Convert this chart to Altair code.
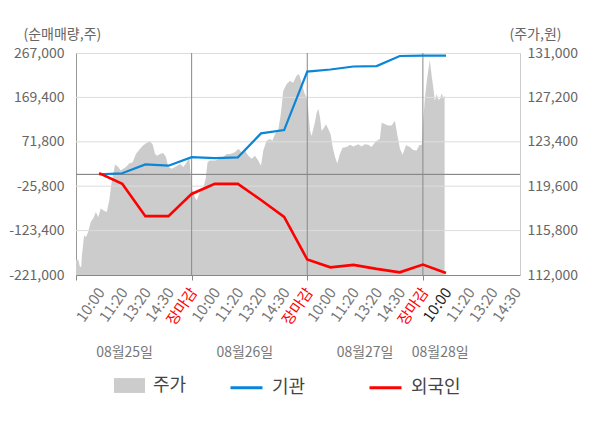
import altair as alt
import pandas as pd

FONT = "Noto Sans CJK KR"

# ---- price (주가), x in label-slot units (5 slots per trading day) ----
price_x = [0, 0.10, 0.17, 0.23, 0.25, 0.35, 0.43, 0.53, 0.64, 0.75, 0.86, 0.96, 1.07, 1.18, 1.33, 1.44,
           1.54, 1.69, 1.83, 1.93, 2.04, 2.16, 2.30, 2.45, 2.59, 2.77, 2.91, 3.08, 3.20, 3.32, 3.42, 3.51,
           3.63, 3.77, 3.89, 3.99, 4.14, 4.28, 4.50, 4.64, 4.79, 4.90,
           5.00, 5.07, 5.14, 5.22, 5.36, 5.50, 5.61, 5.69, 5.79, 6.01, 6.23, 6.37, 6.52, 6.66, 6.87, 7.02,
           7.16, 7.31, 7.45, 7.60, 7.74, 7.88, 8.00, 8.10, 8.24, 8.39, 8.49, 8.60, 8.75, 8.86, 8.96, 9.11,
           9.25, 9.39, 9.54, 9.64, 9.76, 9.87,
           9.97, 10.04, 10.12, 10.19, 10.26, 10.33, 10.41, 10.48, 10.55, 10.62, 10.69, 10.81, 10.91, 11.01,
           11.10, 11.20, 11.30, 11.41, 11.53, 11.70, 11.85, 11.99, 12.21, 12.35, 12.49, 12.64, 12.78, 12.97,
           13.14, 13.22, 13.36, 13.50, 13.65, 13.79, 13.89, 14.01, 14.12, 14.27, 14.44, 14.58, 14.73, 14.84,
           14.95,
           15.02, 15.09, 15.16, 15.23, 15.30, 15.38, 15.45, 15.52, 15.59, 15.66, 15.74, 15.81, 15.88, 15.94]
price_v = [113300, 113300, 112700, 112700, 113550, 115400, 115250, 115700, 116550, 116850, 117400, 116950,
           117700, 117550, 117400, 118400, 119950, 121450, 121250, 120950, 121100, 121250, 121550, 121650,
           122350, 122800, 123100, 123350, 123450, 123150, 122350, 122200, 122350, 122450, 122100, 121250,
           121100, 121250, 121500, 121250, 121650, 122100,
           119500, 119050, 118650, 118400, 119100, 119400, 120250, 121650, 121800, 121800, 121950, 122100,
           122350, 122350, 122500, 122800, 122500, 122650, 122200, 121950, 122200, 121800, 121350, 122650,
           123500, 123650, 123500, 124050, 124500, 125800, 127750, 128350, 128600, 128450, 129050, 129200,
           128450, 127600,
           127200, 126200, 124350, 123900, 124500, 125050, 125900, 126200, 125500, 124350, 124500, 124900,
           124500, 124050, 122950, 122100, 121550, 122350, 122900, 122950, 123150, 123000, 123200, 123000,
           123200, 123150, 122950, 123450, 123650, 125050, 124900, 124800, 124800, 125200, 124050, 122800,
           122300, 123100, 122950, 122700, 122650, 123100, 123150,
           125350, 127200, 128450, 129450, 130400, 129050, 128050, 126900, 127500, 127050, 127050, 127550,
           127200, 127350]

# ---- net buying (순매매량) at each label slot ----
slots = list(range(1, 17))
inst = [0, 2700, 22200, 19300, 38100, 35900, 37700, 90300, 97600, 226200, 230700, 237300, 238200,
        260400, 261100, 261100]
foreign = [3000, -20600, -91600, -91600, -42800, -20600, -20600, -56100, -93200, -187000, -204100,
           -198700, -207600, -215100, -198100, -216500]

# ---- axes / labels ----
time_labels = ["장마감", "10:00", "11:20", "13:20", "14:30"]  # index = slot % 5
x_ticks = list(range(0, 20))
day_bounds = [5, 10, 15]
current_slot = 16
dates = ["08월25일", "08월26일", "08월27일", "08월28일"]
date_pos = [2.1, 7.3, 12.5, 15.75]
left_ticks = [267000, 169400, 71800, -25800, -123400, -221000]
right_ticks = [112000, 115800, 119600, 123400, 127200, 131000]
names_price = ["주가"]
names_flow = ["기관", "외국인"]
colors_flow = ["#0a86d8", "#ff0000"]

W, H = 444, 222

price_df = pd.DataFrame({"x": price_x, "v": price_v, "name": "주가"})
flow_df = pd.concat([
    pd.DataFrame({"x": slots, "v": inst, "name": "기관"}),
    pd.DataFrame({"x": slots, "v": foreign, "name": "외국인"}),
])
grid_df = pd.DataFrame({"v": left_ticks[1:-1]})
day_df = pd.DataFrame({"x": day_bounds})
date_df = pd.DataFrame({"x": date_pos, "t": dates})

lab_arr = "[" + ",".join("'" + s + "'" for s in time_labels) + "]"
x_axis = alt.Axis(
    values=x_ticks, title=None, grid=False,
    labelExpr=f"datum.value == 0 ? '' : {lab_arr}[datum.value % 5]",
    labelAngle=-55, labelAlign="right", labelBaseline="top",
    labelFontSize=15, labelFont=FONT, labelPadding=5, labelOffset=-4,
    labelOverlap=False, labelFlush=False,
    labelColor={"condition": [{"test": "datum.value % 5 == 0", "value": "#ff0000"},
                              {"test": f"datum.value == {current_slot}", "value": "#222222"}],
                "value": "#777777"},
    tickOpacity={"condition": {"test": "datum.value % 5 == 0", "value": 1}, "value": 0},
    tickColor="#888888", tickSize=5, domainColor="#888888",
)
x_scale = alt.Scale(domain=[0, 19.2], nice=False, zero=False)


def X(field):
    return alt.X(field, type="quantitative", scale=x_scale, axis=x_axis)


MINUS_FIX = "replace(datum.label, '\u2212', '-')"

left_scale = alt.Scale(domain=[-221000, 267000], nice=False, zero=False)
left_axis = alt.Axis(
    orient="left", values=left_ticks, format=",d", labelExpr=MINUS_FIX, grid=False, ticks=False,
    labelPadding=12, labelFontSize=14, labelColor="#666666", labelFont=FONT, labelOverlap=False,
    domainColor="#999999",
    title="(순매매량,주)", titleAngle=0, titleX=-53, titleY=-19, titleAlign="left",
    titleBaseline="middle", titleFontSize=14, titleFontWeight="normal", titleColor="#666666",
    titleFont=FONT,
)


def YL(field):
    return alt.Y(field, type="quantitative", scale=left_scale, axis=left_axis)


right_axis = alt.Axis(
    orient="right", values=right_ticks, format=",d", grid=False, ticks=False,
    labelPadding=7, labelFontSize=14, labelColor="#666666", labelFont=FONT, labelOverlap=False,
    domainColor="#cccccc",
    title="(주가,원)", titleAngle=0, titleX=-11, titleY=-19, titleAlign="left",
    titleBaseline="middle", titleFontSize=14, titleFontWeight="normal", titleColor="#666666",
    titleFont=FONT,
)

area = alt.Chart(price_df).mark_area(interpolate="linear", strokeWidth=0).encode(
    x=X("x"),
    y=alt.Y("v", type="quantitative", scale=alt.Scale(domain=[112000, 131000], nice=False, zero=False),
            axis=right_axis),
    y2=alt.datum(112000),
    fill=alt.Fill("name:N", scale=alt.Scale(domain=names_price, range=["#cccccc"]),
                  legend=alt.Legend(orient="none", legendX=38, legendY=317, title=None,
                                    symbolType="M-1,-0.48H1V0.48H-1Z", symbolSize=961,
                                    symbolStrokeWidth=0, symbolOpacity=1,
                                    labelFontSize=18, labelOffset=8, labelColor="#444444",
                                    labelFont=FONT)),
)

grid = alt.Chart(grid_df).mark_rule(color="#dddddd", strokeWidth=1).encode(y=YL("v"))
zero = alt.Chart(grid_df).mark_rule(color="#888888", strokeWidth=1).encode(y=alt.datum(0))
days = alt.Chart(day_df).mark_rule(color="#888888", strokeWidth=1).encode(x=X("x"))

lines = alt.Chart(flow_df).mark_line(interpolate="linear").encode(
    x=X("x"),
    y=YL("v"),
    stroke=alt.Stroke("name:N", scale=alt.Scale(domain=names_flow, range=colors_flow),
                      legend=alt.Legend(orient="none", legendX=153, legendY=317, title=None,
                                        direction="horizontal", symbolType="stroke",
                                        symbolSize=1024, symbolStrokeWidth=3,
                                        columnPadding=57, labelFontSize=18, labelOffset=8,
                                        labelColor="#444444", labelFont=FONT)),
    strokeWidth=alt.condition("datum.name == '외국인'", alt.value(2.6), alt.value(2.2)),
    order=alt.Order("x:Q"),
)

date_text = alt.Chart(date_df).mark_text(
    font=FONT, fontSize=14, color="#777777", baseline="middle", align="center"
).encode(x=X("x"), y=alt.value(300), text="t:N")

left_group = alt.layer(grid, zero, days, lines, date_text)

chart = alt.layer(area, left_group).resolve_scale(y="independent", fill="independent",
                                                  stroke="independent").properties(
    width=W, height=H,
    autosize=alt.AutoSizeParams(type="none"),
    padding={"left": 68, "top": 45, "right": 72, "bottom": 145},
).configure_view(fill="#f4f4f4", strokeWidth=0).configure(font=FONT)

chart.save("out.html", embed_options={"renderer": "svg", "actions": False})
